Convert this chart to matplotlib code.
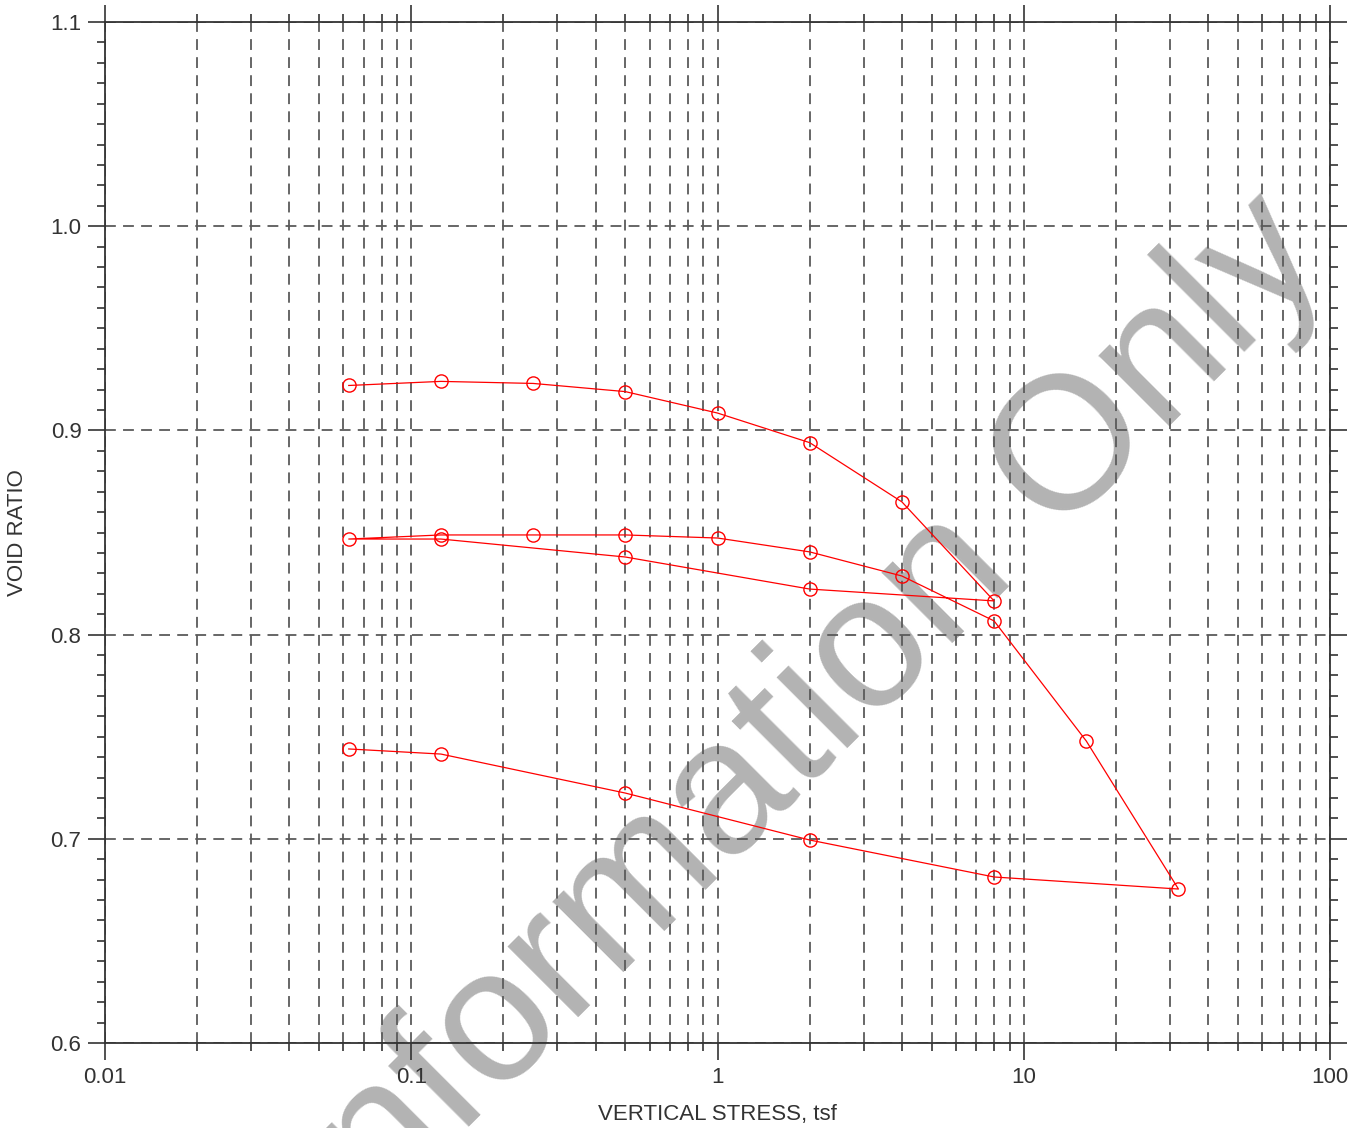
import numpy as np
import matplotlib.pyplot as plt
from matplotlib.ticker import FixedLocator, MultipleLocator, LogLocator, NullFormatter

# consolidation test: load, unload, reload, unload
stress = [0.0625, 0.125, 0.25, 0.5, 1, 2, 4, 8,
          2, 0.5, 0.125, 0.0625,
          0.125, 0.25, 0.5, 1, 2, 4, 8, 16, 32,
          8, 2, 0.5, 0.125, 0.0625]
void_ratio = [0.922, 0.924, 0.923, 0.919, 0.9085, 0.894, 0.865, 0.8165,
              0.8223, 0.838, 0.8468, 0.8468,
              0.8488, 0.8488, 0.8488, 0.8473, 0.8405, 0.8287, 0.8067, 0.7479, 0.6754,
              0.6813, 0.6994, 0.7224, 0.7415, 0.744]

x_ticks = [0.01, 0.1, 1, 10, 100]
x_labels = ["0.01", "0.1", "1", "10", "100"]
y_ticks = [0.6, 0.7, 0.8, 0.9, 1.0, 1.1]
y_labels = ["0.6", "0.7", "0.8", "0.9", "1.0", "1.1"]

plt.rcParams['font.family'] = ['Liberation Sans', 'DejaVu Sans']

fig = plt.figure(figsize=(13.66, 11.28), dpi=100)
ax = fig.add_axes([105 / 1366, 85 / 1128, 1225 / 1366, 1021 / 1128])
ax.set_facecolor('none')

# watermark behind everything
fig.text(0.589, 0.360, "Information Only", fontsize=137, color='#b3b3b3',
         rotation=45, ha='center', va='center', rotation_mode='anchor', zorder=-10)

ax.plot(stress, void_ratio, color='red', lw=0.9, marker='o', ms=9.5,
        mfc='none', mec='red', mew=1.0, zorder=5)

ax.set_xscale('log')
ax.set_xlim(0.01, 100)
ax.set_ylim(0.6, 1.1)

ax.xaxis.set_major_locator(FixedLocator(x_ticks))
ax.set_xticklabels(x_labels)
ax.xaxis.set_minor_locator(LogLocator(base=10, subs=np.arange(2, 10)))
ax.xaxis.set_minor_formatter(NullFormatter())
ax.yaxis.set_major_locator(FixedLocator(y_ticks))
ax.set_yticklabels(y_labels)
ax.yaxis.set_minor_locator(MultipleLocator(0.01))

ax.grid(True, which='major', axis='both', ls=(0, (6, 4)), color='#5a5a5a', lw=1.3)
ax.grid(True, which='minor', axis='x', ls=(0, (6, 4)), color='#5a5a5a', lw=1.3)

ax.tick_params(which='major', direction='out', length=12, width=1.2, color='#333',
               labelsize=16, labelcolor='#333', pad=5,
               top=True, right=True)
ax.tick_params(which='minor', direction='out', length=6, width=1.2, color='#333',
               top=True, right=True)
for s in ax.spines.values():
    s.set_color('#333')
    s.set_linewidth(1.3)

ax.set_xlabel("VERTICAL STRESS, tsf", fontsize=16, color='#333', labelpad=12)
ax.set_ylabel("VOID RATIO", fontsize=16, color='#333', labelpad=16)

fig.savefig("out.png", dpi=100)
